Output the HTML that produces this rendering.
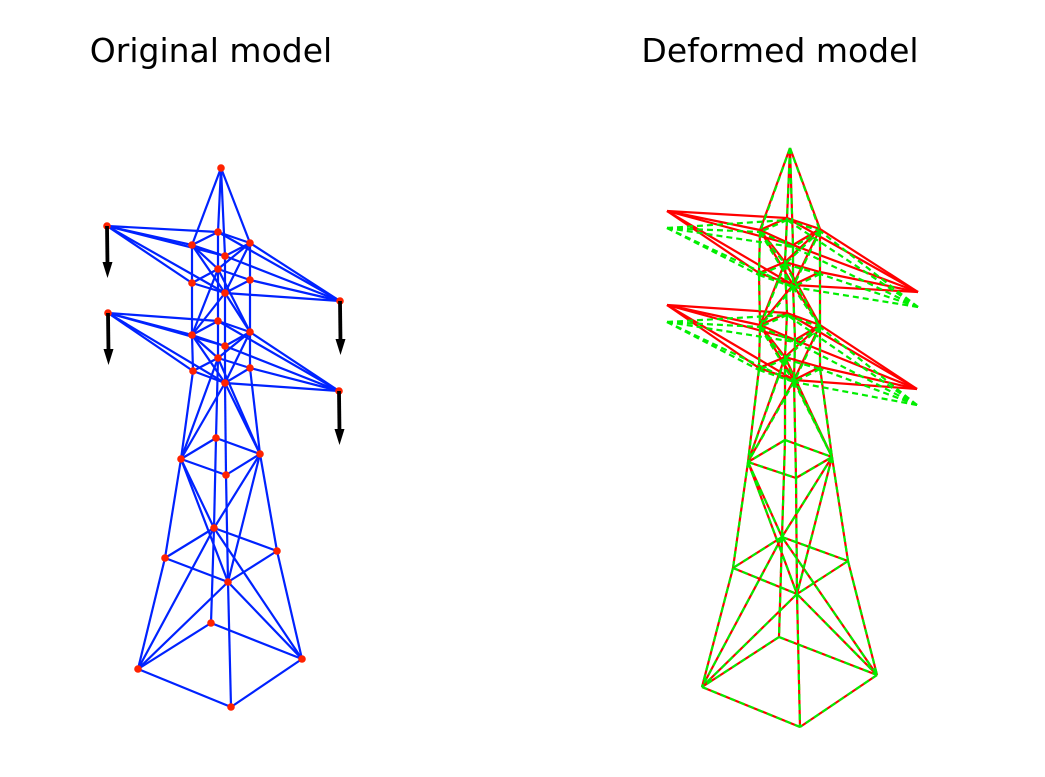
<!DOCTYPE html>
<html><head><meta charset="utf-8"><style>
body{margin:0;background:#fff;}
svg{display:block;font-family:"DejaVu Sans","Liberation Sans",sans-serif;}
</style></head><body>
<svg id="fig" width="1045" height="777" viewBox="0 0 1045 777">
<text x="211" y="62" font-size="33" text-anchor="middle" fill="#000">Original model</text>
<text x="780" y="62" font-size="33" text-anchor="middle" fill="#000">Deformed model</text>
<g id="left"></g>
<g id="right"></g>
</svg>
<script>
const NS="http://www.w3.org/2000/svg";
const nodeNames=["T","a1","a2","a3","a4","b1","b2","b3","b4","L1","R1","c1","c2","c3","c4","d1","d2","d3","d4","L2","R2","e1","e2","e3","e4","f1","f2","f3","f4","g1","g2","g3","g4"];
const origX=[221,218,192,250,225,218,192,250,225,107,340,218,192,250,225,218,193,250,225,108,339,216,181,260,226,214,165,277,228,211,138,302,231];
const origY=[168,232,245,243,256,269,283,280,293,226,301,321,335,332,346,358,371,368,383,313,391,438,459,454,475,528,558,551,582,623,669,659,707];
const defX=[790,787,760,820,793,785,759,820,793,667,918,787,760,820,795,785,759,820,794,667,917,785,748,832,796,782,733,848,797,779,702,877,800];
const defY=[148,218,230,229,245,262,273,272,285,211,292,313,325,325,340,357,368,367,380,305,389,440,462,457,478,537,568,561,594,637,687,675,727];
const greenDY=[0,2,2,2,2,2,2,2,2,17,15,2,2,2,2,2,2,2,2,17,16,0,0,0,0,0,0,0,0,0,0,0,0];
const loadTips=["L1","R1","L2","R2"];
const loadLen=[52,54,52,54];

const edges=[];
function E(a,b){edges.push([a,b]);}
["a","b","c","d","e","f","g"].forEach(l=>{E(l+"1",l+"2");E(l+"1",l+"3");E(l+"2",l+"4");E(l+"3",l+"4");});
["a1","a2","a3","a4"].forEach(n=>E("T",n));
const levels=["a","b","c","d","e","f","g"];
for(let i=0;i<levels.length-1;i++){
  const u=levels[i],m=levels[i+1];
  for(let k=1;k<=4;k++)E(u+k,m+k);
  if(i%2===0){E(u+"2",m+"1");E(u+"2",m+"4");E(u+"3",m+"1");E(u+"3",m+"4");}
  else{E(u+"1",m+"2");E(u+"1",m+"3");E(u+"4",m+"2");E(u+"4",m+"3");}
}
E("L1","a1");E("L1","a2");E("L1","a4");E("L1","b2");E("L1","b4");
E("R1","a1");E("R1","a3");E("R1","a4");E("R1","b3");E("R1","b4");
E("L2","c1");E("L2","c2");E("L2","c4");E("L2","d2");E("L2","d4");
E("R2","c1");E("R2","c3");E("R2","c4");E("R2","d3");E("R2","d4");

const idx={};nodeNames.forEach((n,i)=>idx[n]=i);
function line(g,x1,y1,x2,y2,col,w,dash,name){
  const l=document.createElementNS(NS,"line");
  l.setAttribute("x1",x1);l.setAttribute("y1",y1);l.setAttribute("x2",x2);l.setAttribute("y2",y2);
  l.setAttribute("stroke",col);l.setAttribute("stroke-width",w);
  if(dash)l.setAttribute("stroke-dasharray",dash);
  
  
  g.appendChild(l);return l;
}
const L=document.getElementById("left"),R=document.getElementById("right");
edges.forEach(([a,b])=>{
  const i=idx[a],j=idx[b];
  line(L,origX[i],origY[i],origX[j],origY[j],"#0022ff",2.2,null,"member-"+a+"-"+b);
});
edges.forEach(([a,b])=>{
  const i=idx[a],j=idx[b];
  line(R,defX[i],defY[i],defX[j],defY[j],"#ff0000",2.2,null,"deformed-member-"+a+"-"+b);
});
edges.forEach(([a,b])=>{
  const i=idx[a],j=idx[b];
  line(R,defX[i],defY[i]+greenDY[i],defX[j],defY[j]+greenDY[j],"#00ee00",2.2,"6,4","overlay-member-"+a+"-"+b);
});
nodeNames.forEach((n,i)=>{
  const c=document.createElementNS(NS,"circle");
  c.setAttribute("cx",origX[i]);c.setAttribute("cy",origY[i]);c.setAttribute("r",3.8);c.setAttribute("fill","#ff2200");
  
  
  L.appendChild(c);
});
loadTips.forEach((n,k)=>{
  const i=idx[n],x=origX[i],y=origY[i],len=loadLen[k];
  line(L,x,y,x+0.5,y+len-12,"#000",3.8,null,"load-arrow-shaft-"+n);
  const p=document.createElementNS(NS,"polygon");
  const tx=x+0.5,ty=y+len;
  p.setAttribute("points",(tx-5)+","+(ty-16)+" "+(tx+5)+","+(ty-16)+" "+tx+","+ty);
  p.setAttribute("fill","#000");
  
  
  L.appendChild(p);
});
</script>
</body></html>
